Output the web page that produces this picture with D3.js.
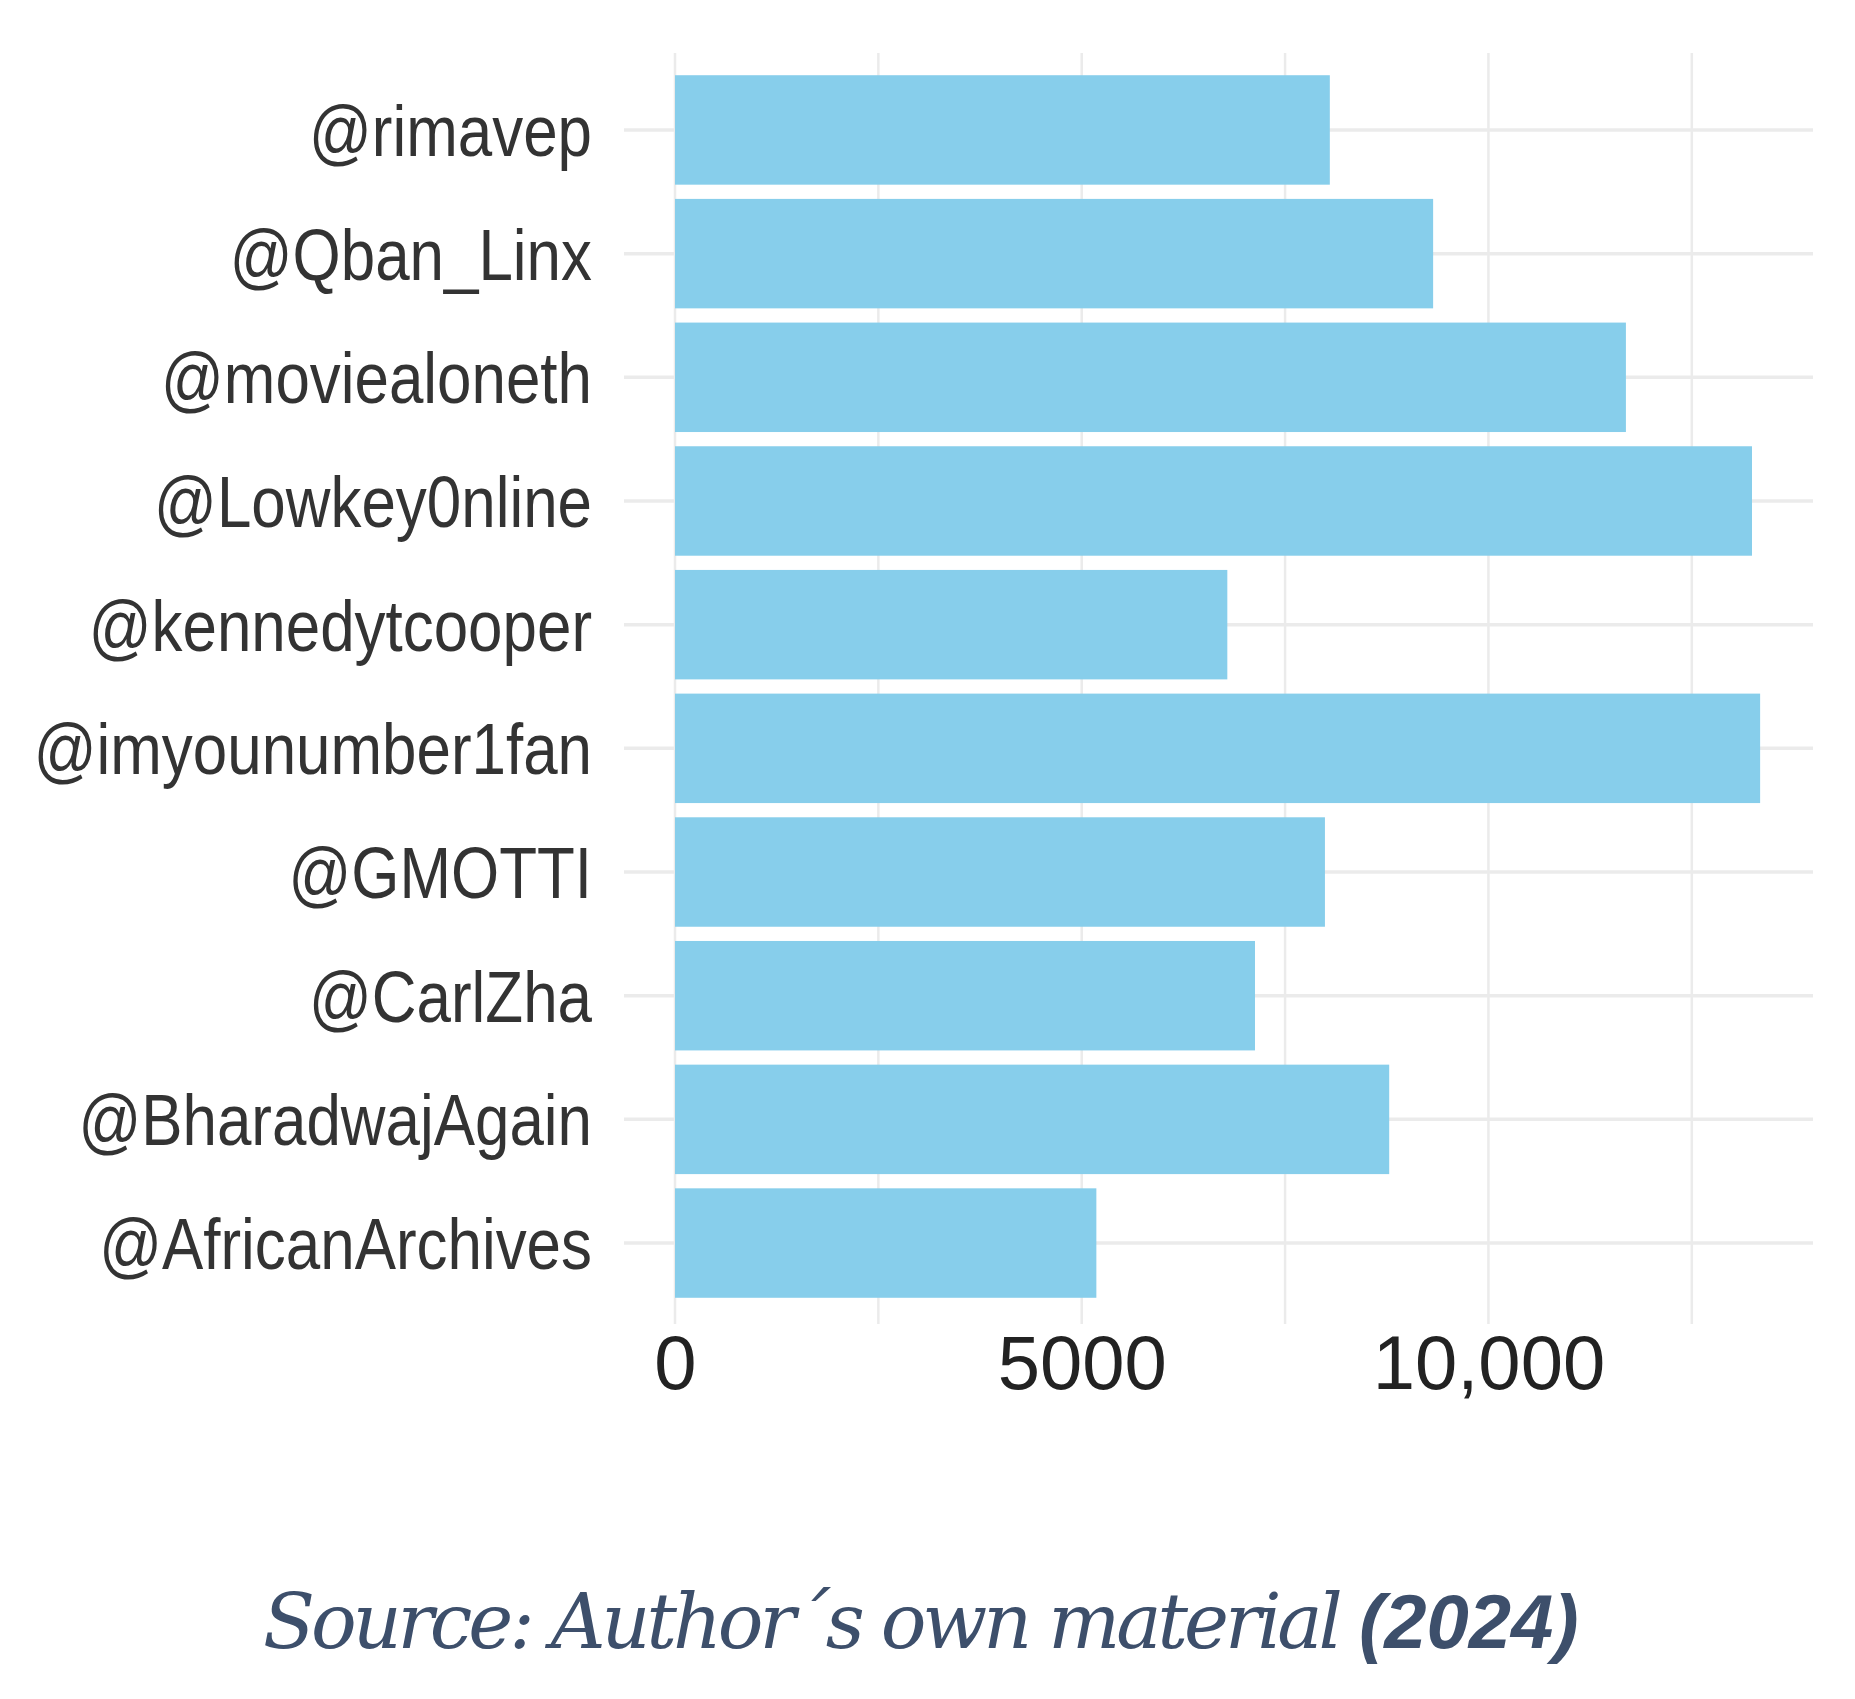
<!DOCTYPE html>
<html><head><meta charset="utf-8">
<script src="https://cdn.jsdelivr.net/npm/d3@7"></script>
<style>body{margin:0;background:#fff}</style>
</head><body>
<div id="chart"></div>
<script>
// data
var users = ["@rimavep","@Qban_Linx","@moviealoneth","@Lowkey0nline","@kennedytcooper",
             "@imyounumber1fan","@GMOTTI","@CarlZha","@BharadwajAgain","@AfricanArchives"];
var counts = [8050, 9320, 11690, 13240, 6790, 13340, 7990, 7130, 8780, 5180];
var tickValues = [0, 5000, 10000];
var tickLabels = ["0", "5000", "10,000"];

var W = 1855, H = 1699;
var margin = {left: 675, top: 53, right: 42, bottom: 390};
var sx = 0.86; // labels in the picture are horizontally squeezed

var svg = d3.select("#chart").append("svg")
    .attr("width", W).attr("height", H);

var x = d3.scaleLinear().domain([0, 13990]).range([margin.left, W - margin.right]);
var y = d3.scaleBand().domain(users).range([margin.top + 8, H - margin.bottom + 3]).padding(0.115);

// grid
svg.append("g").selectAll("line.v")
  .data([0, 2500, 5000, 7500, 10000, 12500])
  .enter().append("line")
    .attr("x1", d => x(d)).attr("x2", d => x(d))
    .attr("y1", margin.top).attr("y2", H - margin.bottom + 3 + 12)
    .attr("stroke", "#ebebeb").attr("stroke-width", 2.5);
svg.append("g").selectAll("line.h")
  .data(users)
  .enter().append("line")
    .attr("x1", 624).attr("x2", W - margin.right)
    .attr("y1", d => y(d) + y.bandwidth() / 2).attr("y2", d => y(d) + y.bandwidth() / 2)
    .attr("stroke", "#ebebeb").attr("stroke-width", 3.5);

// bars
svg.append("g").selectAll("rect")
  .data(users)
  .enter().append("rect")
    .attr("x", x(0))
    .attr("y", d => y(d))
    .attr("width", (d, i) => x(counts[i]) - x(0))
    .attr("height", y.bandwidth())
    .attr("fill", "#87ceeb");

// y labels
svg.append("g")
    .attr("transform", "translate(592,0) scale(" + sx + ",1)")
  .selectAll("text")
  .data(users)
  .enter().append("text")
    .attr("x", 0)
    .attr("y", d => y(d) + y.bandwidth() / 2)
    .attr("dy", "0.36em")
    .attr("text-anchor", "end")
    .attr("font-family", "Liberation Sans, Arial, sans-serif")
    .attr("font-size", 72)
    .attr("fill", "#333")
    .text(d => d);

// x tick labels
var xAxis = d3.axisBottom(x).tickValues(tickValues)
    .tickFormat((d, i) => tickLabels[i]).tickSize(0);
var gx = svg.append("g")
    .attr("transform", "translate(0," + (H - margin.bottom) + ")")
    .call(xAxis);
gx.select(".domain").remove();
gx.selectAll("text")
    .attr("y", 0).attr("dy", "1.05em")
    .attr("font-family", "Liberation Sans, Arial, sans-serif")
    .attr("font-size", 76)
    .attr("fill", "#222");

// caption
var cap = svg.append("text")
    .attr("x", 263).attr("y", 1648)
    .attr("fill", "#3d4f6b")
    .attr("font-size", 76);
cap.append("tspan")
    .attr("font-family", "DejaVu Serif, Liberation Serif, serif")
    .attr("font-style", "italic")
    .attr("textLength", 1100)
    .text("Source: Author\u00b4s own material ");
cap.append("tspan")
    .attr("font-family", "Liberation Sans, Arial, sans-serif")
    .attr("font-style", "italic").attr("font-weight", "bold")
    .text("(2024)");
</script>
</body></html>
